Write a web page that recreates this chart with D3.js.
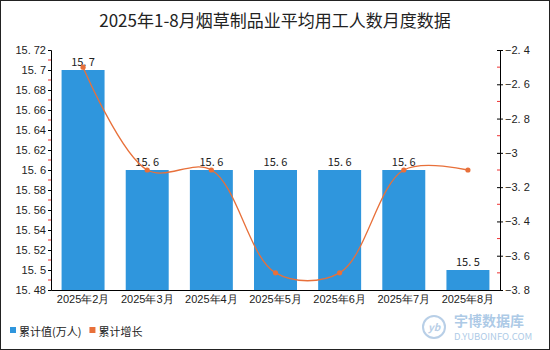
<!DOCTYPE html>
<html>
<head>
<meta charset="utf-8">
<script src="https://cdn.jsdelivr.net/npm/d3@7"></script>
<style>
  html, body { margin: 0; padding: 0; background: #fff; }
  svg { display: block; font-family: "Noto Sans CJK SC", "Liberation Sans", sans-serif; }
</style>
</head>
<body>
<svg id="chart" width="550" height="350"></svg>
<script>
// 2025年1-8月 烟草制品业平均用工人数 月度数据
const months = ['2025年2月', '2025年3月', '2025年4月', '2025年5月', '2025年6月', '2025年7月', '2025年8月'];
const totals = [15.7, 15.6, 15.6, 15.6, 15.6, 15.6, 15.5];   // 累计值(万人)
const growth = [-2.5, -3.1, -3.1, -3.7, -3.7, -3.1, -3.1];   // 累计增长(%)
const leftTicks = [15.48, 15.5, 15.52, 15.54, 15.56, 15.58, 15.6, 15.62, 15.64, 15.66, 15.68, 15.7, 15.72];
const rightTicks = [-3.8, -3.6, -3.4, -3.2, -3, -2.8, -2.6, -2.4];

const W = 550, H = 350;
const m = { left: 51, right: 50, top: 50, bottom: 60 };
const plotR = W - m.right, plotB = H - m.bottom;

const barColor = '#2f96dd';
const lineColor = '#e8703a';

const svg = d3.select('#chart');

// outer frame
svg.append('rect')
    .attr('x', 0.5).attr('y', 0.5)
    .attr('width', W - 1).attr('height', H - 1)
    .attr('fill', '#fff').attr('stroke', '#222');

svg.append('text')
    .attr('x', W / 2).attr('y', 27)
    .attr('text-anchor', 'middle')
    .attr('font-size', 17)
    .attr('fill', '#222')
    .text('2025年1-8月烟草制品业平均用工人数月度数据');

const x = d3.scaleBand().domain(months).range([m.left, plotR]).paddingInner(0.33).paddingOuter(0.165);
const xc = d3.scaleBand().domain(months).range([m.left, plotR]);
const yL = d3.scaleLinear().domain([15.48, 15.72]).range([plotB, m.top]);
const yR = d3.scaleLinear().domain([-3.8, -2.4]).range([plotB, m.top]);

const fmt = v => String(+v.toFixed(2)).replace('.', '. ');

// minor (red) ticks sit halfway between the labelled ones
function minor(ticks) {
    const out = [];
    for (let i = 0; i < ticks.length - 1; i++) out.push((ticks[i] + ticks[i + 1]) / 2);
    return out;
}

// bars
svg.append('g').selectAll('rect')
    .data(totals)
    .join('rect')
    .attr('x', (d, i) => x(months[i]))
    .attr('width', x.bandwidth())
    .attr('y', d => yL(d))
    .attr('height', d => plotB - yL(d))
    .attr('fill', barColor);

// bar labels
svg.append('g').selectAll('text')
    .data(totals)
    .join('text')
    .attr('x', (d, i) => xc(months[i]) + xc.bandwidth() / 2)
    .attr('y', d => yL(d) - 4)
    .attr('text-anchor', 'middle')
    .attr('font-size', 11)
    .attr('fill', '#222')
    .text(d => fmt(d));

// left axis
const gl = svg.append('g').attr('transform', `translate(${m.left},0)`);
gl.call(d3.axisLeft(yL).tickValues(leftTicks).tickSize(3).tickFormat(fmt))
    .call(g => g.select('.domain').attr('stroke', '#000'))
    .call(g => g.selectAll('.tick line').attr('stroke', '#000'))
    .call(g => g.selectAll('.tick text').attr('font-size', 11).attr('fill', '#222').attr('font-family', 'inherit').attr('x', -5));
gl.selectAll('line.minor').data(minor(leftTicks)).join('line')
    .attr('class', 'minor')
    .attr('x1', -3).attr('x2', 0)
    .attr('y1', d => yL(d)).attr('y2', d => yL(d))
    .attr('stroke', '#e33');

// right axis
const gr = svg.append('g').attr('transform', `translate(${plotR},0)`);
gr.call(d3.axisRight(yR).tickValues(rightTicks).tickSize(3).tickFormat(fmt))
    .call(g => g.select('.domain').attr('stroke', '#000'))
    .call(g => g.selectAll('.tick line').attr('stroke', '#000').attr('x1', -3))
    .call(g => g.selectAll('.tick text').attr('font-size', 11).attr('fill', '#222').attr('font-family', 'inherit').attr('x', 5)
        .text(d => (d < 0 ? '−' : '') + fmt(Math.abs(d))));
gr.selectAll('line.minor').data(minor(rightTicks)).join('line')
    .attr('class', 'minor')
    .attr('x1', -3).attr('x2', 0)
    .attr('y1', d => yR(d)).attr('y2', d => yR(d))
    .attr('stroke', '#e33');

// x axis
svg.append('g').attr('transform', `translate(0,${plotB})`)
    .call(d3.axisBottom(xc).tickSize(0).tickPadding(5))
    .call(g => g.select('.domain').attr('stroke', '#000'))
    .call(g => g.selectAll('.tick text').attr('font-size', 11).attr('fill', '#222').attr('font-family', 'inherit'));

// growth line
const line = d3.line()
    .x((d, i) => xc(months[i]) + xc.bandwidth() / 2)
    .y(d => yR(d))
    .curve(d3.curveCatmullRom.alpha(0.5));

svg.append('path')
    .datum(growth)
    .attr('d', line)
    .attr('fill', 'none')
    .attr('stroke', lineColor)
    .attr('stroke-width', 1.3);

svg.append('g').selectAll('circle')
    .data(growth)
    .join('circle')
    .attr('cx', (d, i) => xc(months[i]) + xc.bandwidth() / 2)
    .attr('cy', d => yR(d))
    .attr('r', 2.6)
    .attr('fill', lineColor);

// legend
const legend = svg.append('g').attr('transform', 'translate(10,332)');
const items = [{ name: '累计值(万人)', color: barColor }, { name: '累计增长', color: lineColor }];
let lx = 0;
items.forEach(it => {
    legend.append('rect').attr('x', lx).attr('y', -5).attr('width', 6).attr('height', 6).attr('fill', it.color);
    const t = legend.append('text').attr('x', lx + 9).attr('y', 0).attr('dy', '0.35em')
        .attr('font-size', 11).attr('fill', '#222').text(it.name);
    lx += 9 + t.node().getComputedTextLength() + 8;
});

// watermark
const wm = svg.append('g').attr('transform', 'translate(434,327)').attr('opacity', 0.55);
wm.append('circle').attr('r', 11).attr('fill', 'none').attr('stroke', '#7fa8d4').attr('stroke-width', 2);
wm.append('text').attr('text-anchor', 'middle').attr('dy', '0.35em').attr('font-size', 10)
    .attr('font-style', 'italic').attr('font-weight', 'bold').attr('fill', '#7fa8d4').text('yb');
wm.append('text').attr('x', 20).attr('y', -1).attr('font-size', 14).attr('font-weight', 'bold')
    .attr('fill', '#6b9fd3').text('宇博数据库');
wm.append('text').attr('x', 20).attr('y', 13).attr('font-size', 9.5)
    .attr('fill', '#6b9fd3').text('D.YUBOINFO.COM');
</script>
</body>
</html>
